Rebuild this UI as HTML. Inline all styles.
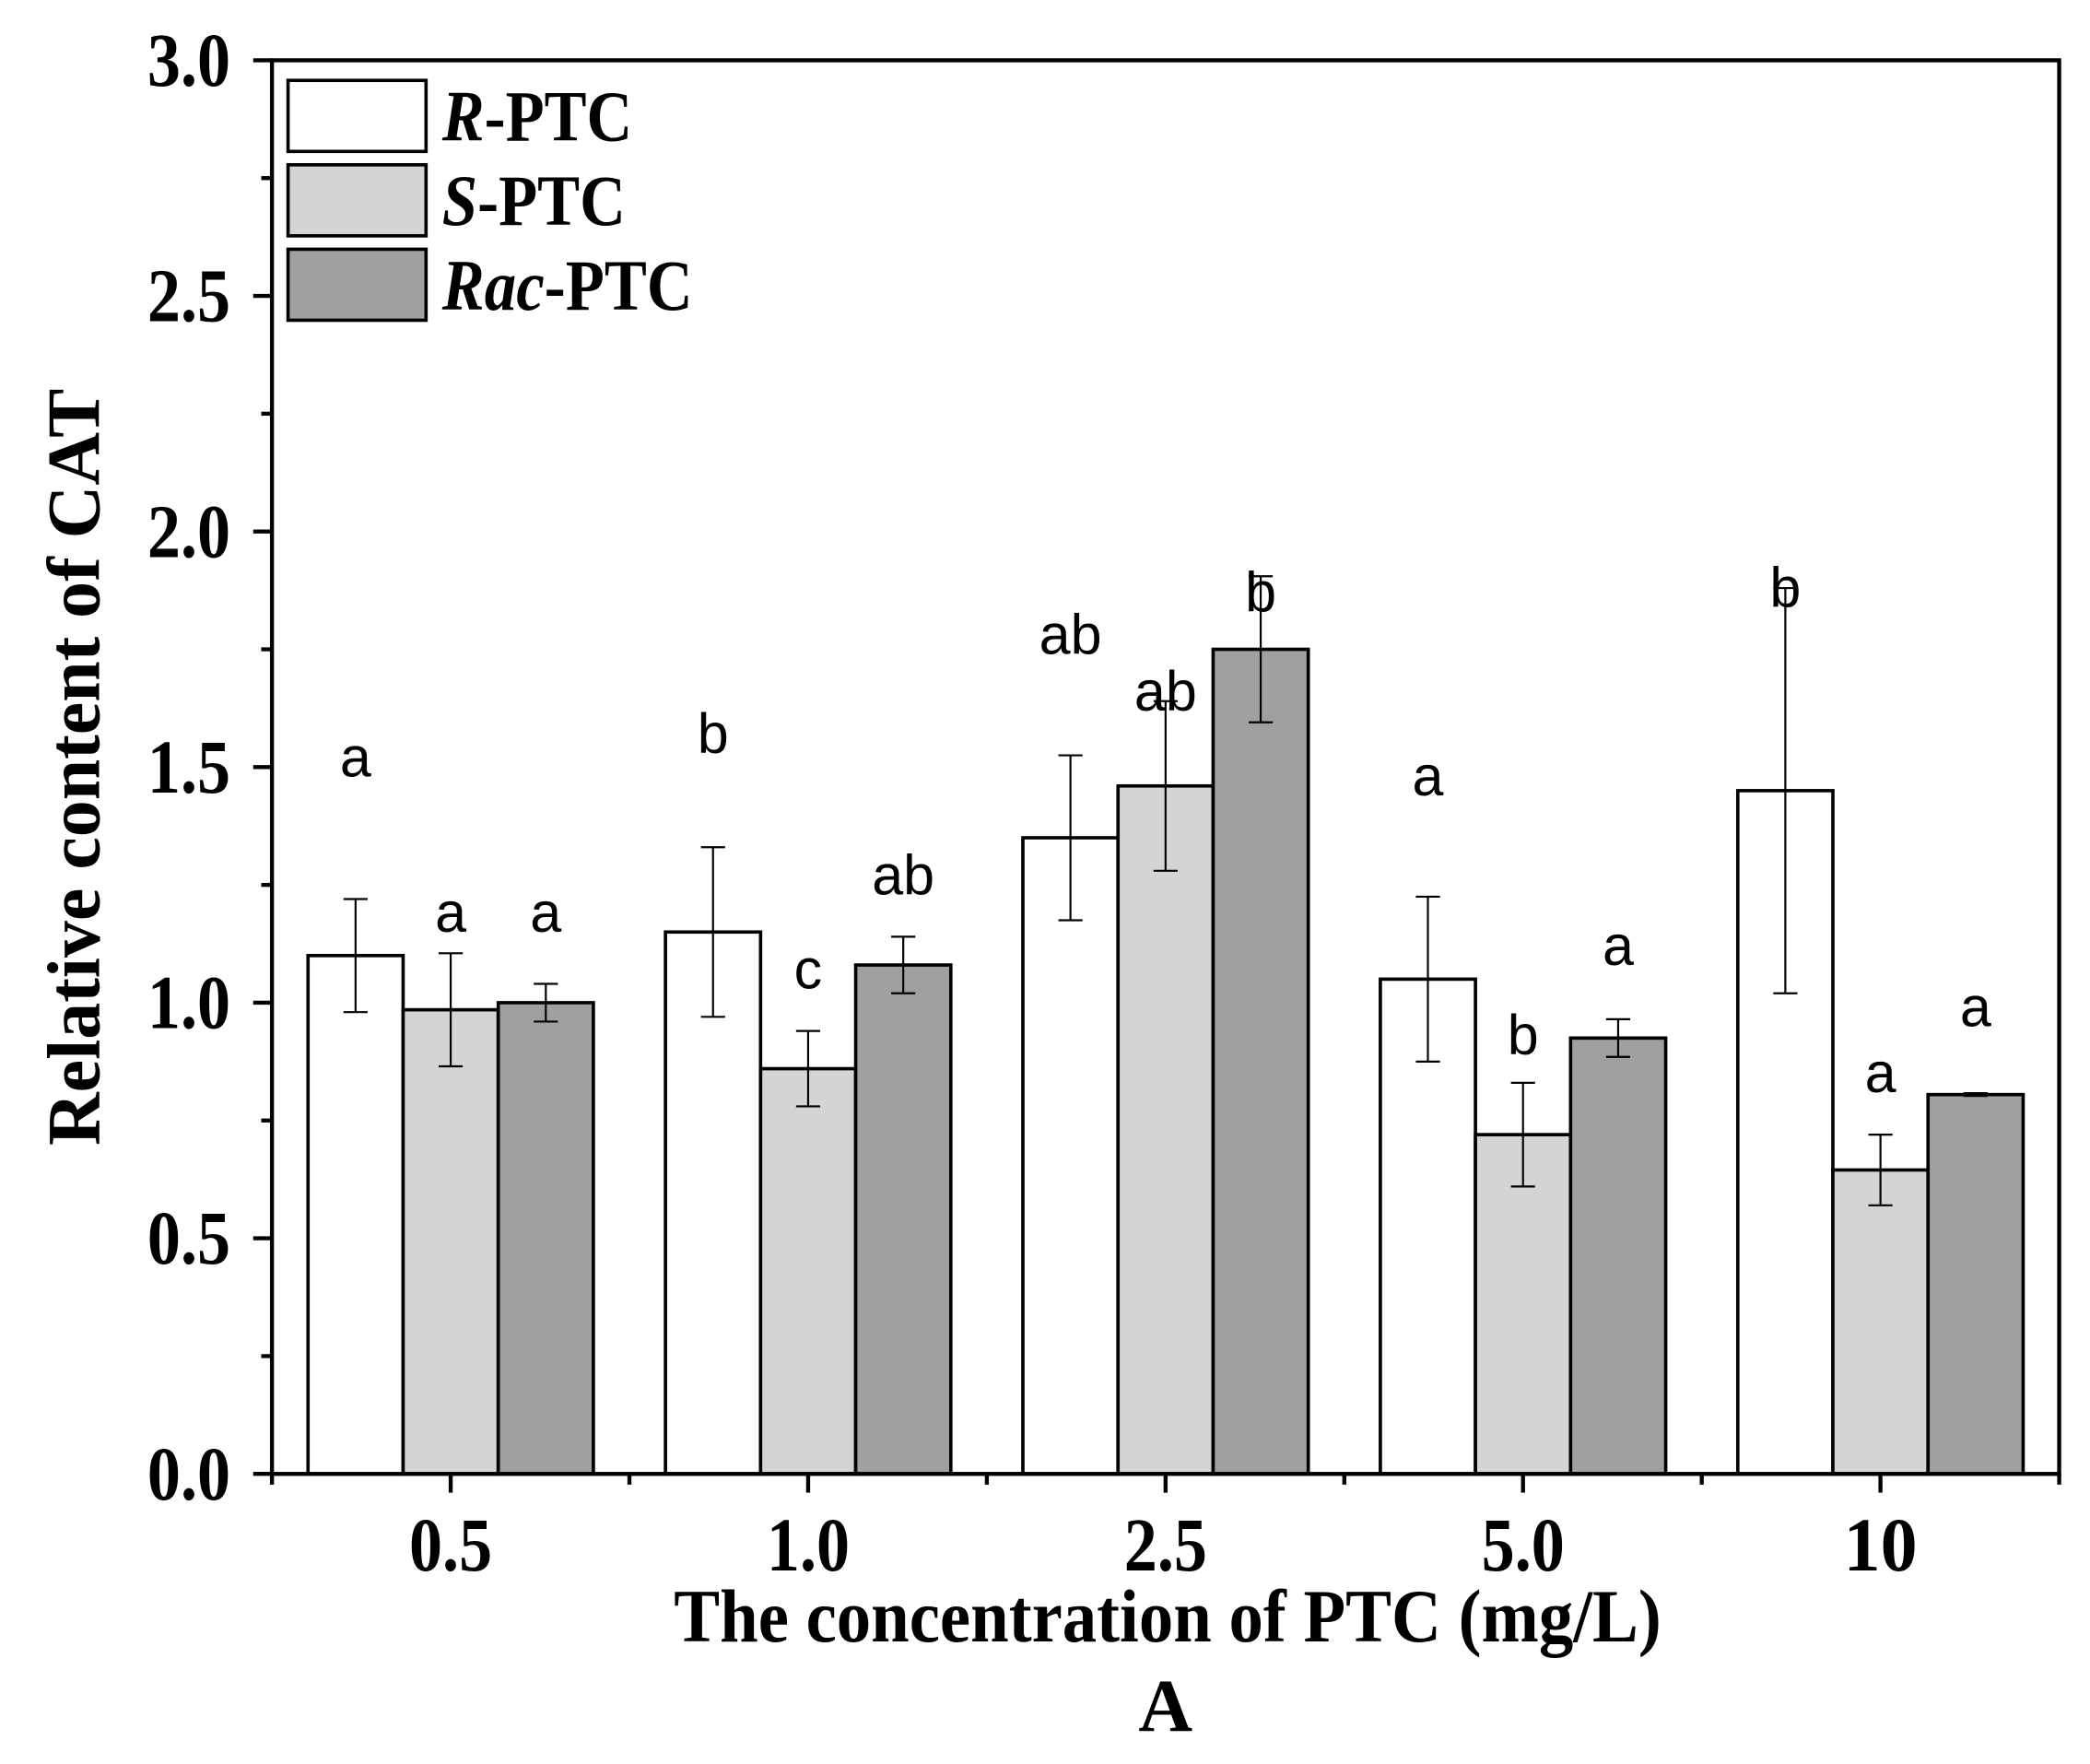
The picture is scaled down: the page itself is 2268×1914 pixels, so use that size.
<!DOCTYPE html>
<html><head><meta charset="utf-8"><style>
html,body{margin:0;padding:0;background:#fff;}
body{position:relative;}
svg{display:block;}
</style></head><body>
<svg id="chart" width="2268" height="1914" viewBox="0 0 1560 1316.5" xmlns="http://www.w3.org/2000/svg">
<g id="marks"></g>
<g id="axes"></g>
</svg>
<script>
const categories = ["0.5","1.0","2.5","5.0","10"];
const seriesNames = ["R","S","Rac"];
const rValues = [1.10,1.15,1.35,1.05,1.45];
const sValues = [0.985,0.86,1.46,0.72,0.645];
const racValues = [1.0,1.08,1.75,0.925,0.805];
const rErrors = [0.12,0.18,0.175,0.175,0.43];
const sErrors = [0.12,0.08,0.18,0.11,0.075];
const racErrors = [0.04,0.06,0.155,0.04,0.003];
const rLetters = ["a","b","ab","a","b"];
const sLetters = ["a","c","ab","b","a"];
const racLetters = ["a","ab","b","a","a"];
const rLetterY = [1.52,1.57,1.78,1.48,1.88];
const sLetterY = [1.19,1.07,1.66,0.93,0.85];
const racLetterY = [1.19,1.27,1.87,1.12,0.99];
const yTicks = [0,0.5,1.0,1.5,2.0,2.5,3.0];
const yTickLabels = ["0.0","0.5","1.0","1.5","2.0","2.5","3.0"];

const NS="http://www.w3.org/2000/svg";
const L=203,R=1537,T=45,B=1100;
const yMax=3.0;
function yS(v){return B-(v/yMax)*(B-T);}
const groupW=(R-L)/categories.length;
function xC(i){return L+groupW*(i+0.5);}
const barW=71;
const fills=["#ffffff","#d4d4d4","#a0a0a0"];
const vals=[rValues,sValues,racValues];
const errs=[rErrors,sErrors,racErrors];
const lets=[rLetters,sLetters,racLetters];
const letY=[rLetterY,sLetterY,racLetterY];
const marks=document.getElementById('marks');
const axes=document.getElementById('axes');
function mk(tag,attrs,parent){const e=document.createElementNS(NS,tag);for(const k in attrs)e.setAttribute(k,attrs[k]);parent.appendChild(e);return e;}
for(let s=0;s<3;s++){
  for(let i=0;i<categories.length;i++){
    const x=xC(i)-1.5*barW+s*barW;
    const v=vals[s][i];
    const b=mk('rect',{x:x,y:yS(v),width:barW,height:B-yS(v),fill:fills[s],stroke:'#000','stroke-width':2.5},marks);
    
    
    const cx=x+barW/2, e=errs[s][i];
    const g=mk('g',{stroke:'#000','stroke-width':1.5},marks);
    
    
    mk('line',{x1:cx,x2:cx,y1:yS(v+e),y2:yS(v-e)},g);
    mk('line',{x1:cx-9,x2:cx+9,y1:yS(v+e),y2:yS(v+e)},g);
    mk('line',{x1:cx-9,x2:cx+9,y1:yS(v-e),y2:yS(v-e)},g);
    const t=mk('text',{x:cx,y:yS(letY[s][i])+14,'text-anchor':'middle','font-family':'Liberation Sans, sans-serif','font-size':42},marks);
    t.textContent=lets[s][i];
    
    
  }
}
const fr=mk('rect',{x:L,y:T,width:R-L,height:B-T,fill:'none',stroke:'#000','stroke-width':3},axes);


for(let v=0;v<=yMax+0.001;v+=0.25){
  const major=Math.abs(v*2-Math.round(v*2))<0.001;
  const tk=mk('line',{x1:L-(major?14:8),x2:L,y1:yS(v),y2:yS(v),stroke:'#000','stroke-width':3},axes);
  
  
}
for(let k=0;k<yTicks.length;k++){
  const t=mk('text',{x:110,y:yS(yTicks[k])+19,'font-family':'Liberation Serif, serif','font-weight':'bold','font-size':57,textLength:62,lengthAdjust:'spacingAndGlyphs'},axes);
  t.textContent=yTickLabels[k];
  
  
}
for(let i=0;i<categories.length;i++){
  const tk=mk('line',{x1:xC(i),x2:xC(i),y1:B,y2:B+14,stroke:'#000','stroke-width':3},axes);
  
  
  const w=categories[i].length===2?55:62;
  const t=mk('text',{x:xC(i)-w/2,y:1172,'font-family':'Liberation Serif, serif','font-weight':'bold','font-size':57,textLength:w,lengthAdjust:'spacingAndGlyphs'},axes);
  t.textContent=categories[i];
  
  
}
for(let i=0;i<=categories.length;i++){
  const x=L+groupW*i;
  const tk=mk('line',{x1:x,x2:x,y1:B,y2:B+8,stroke:'#000','stroke-width':3},axes);
  
  
}
</script>
<svg style="position:absolute;left:0;top:0" width="2268" height="1914" viewBox="0 0 1560 1316.5" xmlns="http://www.w3.org/2000/svg">
<g font-family="Liberation Serif, serif" font-weight="bold" font-size="54">
<g>
<rect x="215" y="60" width="103" height="53" fill="#fff" stroke="#000" stroke-width="2.5"/>
<rect x="215" y="123" width="103" height="53" fill="#d4d4d4" stroke="#000" stroke-width="2.5"/>
<rect x="215" y="186" width="103" height="53" fill="#a0a0a0" stroke="#000" stroke-width="2.5"/>
<text x="330" y="105" textLength="142" lengthAdjust="spacingAndGlyphs"><tspan font-style="italic">R</tspan>-PTC</text>
<text x="330" y="168" textLength="137" lengthAdjust="spacingAndGlyphs"><tspan font-style="italic">S</tspan>-PTC</text>
<text x="330" y="231" textLength="187" lengthAdjust="spacingAndGlyphs"><tspan font-style="italic">Rac</tspan>-PTC</text>
</g>
<text x="503" y="1225" font-size="56" textLength="737" lengthAdjust="spacingAndGlyphs">The concentration of PTC (mg/L)</text>
<text x="870" y="1292" text-anchor="middle" font-size="56">A</text>
<text transform="translate(74,855) rotate(-90)" font-size="56" textLength="565" lengthAdjust="spacingAndGlyphs">Relative content of CAT</text>
</g>
</svg>
</body></html>
